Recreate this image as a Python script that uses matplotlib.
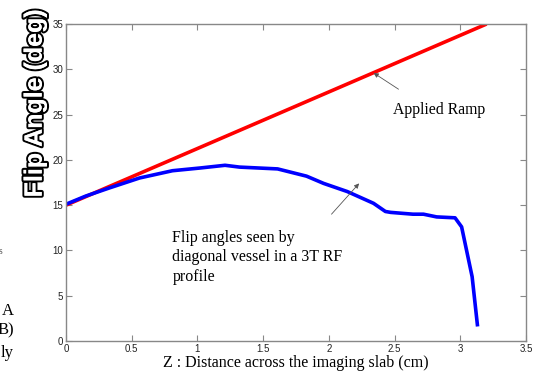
import matplotlib
matplotlib.use("Agg")
import matplotlib.pyplot as plt
import matplotlib.patheffects as pe

# applied linear ramp (deg) across the slab
ramp_z = [0.0, 3.2]
ramp_deg = [15.0, 35.0]

# flip angle seen by the diagonal vessel
vessel_z = [0.0, 0.15, 0.33, 0.56, 0.81, 1.02, 1.21, 1.32, 1.61, 1.83, 1.96,
            2.14, 2.34, 2.43, 2.47, 2.64, 2.72, 2.82, 2.96, 3.01, 3.09, 3.13]
vessel_deg = [15.1, 16.0, 16.9, 18.0, 18.8, 19.1, 19.4, 19.2, 19.0, 18.2, 17.4,
              16.5, 15.2, 14.3, 14.2, 14.0, 14.0, 13.7, 13.6, 12.6, 7.1, 1.8]

xticks = [0, 0.5, 1, 1.5, 2, 2.5, 3, 3.5]
yticks = [0, 5, 10, 15, 20, 25, 30, 35]

serif = ["Liberation Serif", "DejaVu Serif"]
sans = ["Liberation Sans", "DejaVu Sans"]

fig = plt.figure(figsize=(5.42, 3.71), dpi=100)
ax = fig.add_axes([0.1218, 0.0809, 0.8487, 0.8544])

ax.plot(ramp_z, ramp_deg, color="#ff0000", lw=2.6, solid_capstyle="butt")
ax.plot(vessel_z, vessel_deg, color="#0000ff", lw=2.6)

ax.set_xlim(0, 3.5)
ax.set_ylim(0, 35)
ax.set_xticks(xticks)
ax.set_xticklabels([f"{t:g}" for t in xticks])
ax.set_yticks(yticks)
for s in ax.spines.values():
    s.set_color("#888888")
    s.set_linewidth(1.0)
ax.tick_params(direction="in", length=4, width=0.8, color="#888888",
               top=True, right=True, labelsize=7, labelcolor="#222222", pad=2)
for lab in ax.get_xticklabels() + ax.get_yticklabels():
    lab.set_family(sans)

ax.set_xlabel("Z : Distance across the imaging slab (cm)", family=serif,
              fontsize=11.5, labelpad=1)
ylab = ax.set_ylabel("Flip Angle (deg)", family=sans, fontsize=18,
                     fontweight="bold", color="white")
ylab.set_path_effects([pe.withStroke(linewidth=3, foreground="black"), pe.Normal()])
ax.yaxis.set_label_coords(-0.042, 0.75)

arrow = dict(arrowstyle="-|>", color="#555555", lw=0.6, mutation_scale=7,
             shrinkA=0, shrinkB=0)
ax.annotate("", xy=(2.34, 29.6), xytext=(2.53, 27.8), arrowprops=arrow)
ax.text(2.49, 25.5, "Applied Ramp", family=serif, fontsize=11.3, va="center", ha="left")

ax.annotate("", xy=(2.23, 17.4), xytext=(2.02, 14.0), arrowprops=arrow)
ax.text(0.81, 12.3, "Flip angles seen by\ndiagonal vessel in a 3T RF\nprofile",
        family=serif, fontsize=11.5, va="top", ha="left", linespacing=1.3)

# cropped page text at the left edge
fig.text(0.005, 1 - 252 / 371, "s", family=serif, fontsize=7, color="#555555",
         ha="right", va="center")
fig.text(0.025, 1 - 311 / 371, "A", family=serif, fontsize=12, ha="right", va="center")
fig.text(0.026, 1 - 330 / 371, "B)", family=serif, fontsize=12, ha="right", va="center")
fig.text(0.025, 1 - 353 / 371, "ly", family=serif, fontsize=12, ha="right", va="center")

fig.savefig("out.png", dpi=100)
